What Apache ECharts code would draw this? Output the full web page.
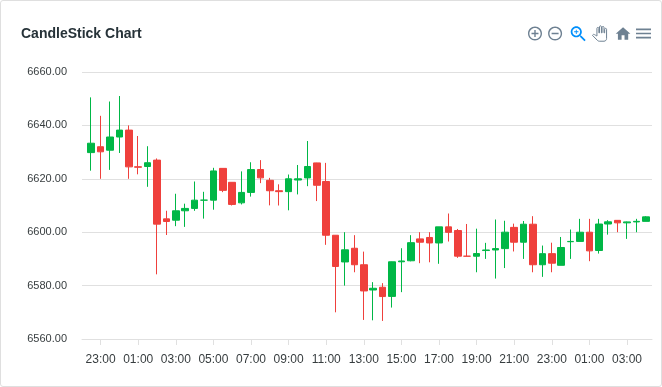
<!DOCTYPE html>
<html><head><meta charset="utf-8">
<style>html,body{margin:0;padding:0;background:#fff}
#wrap{position:absolute;left:0;top:0;width:660px;height:385px;border:1px solid #dfdfdf;border-radius:3px;overflow:hidden}
#c{width:660px;height:385px}</style>
<script src="https://cdn.jsdelivr.net/npm/echarts@6/dist/echarts.min.js"></script>
</head><body><div id="wrap"><div id="c"></div></div>
<script>
const times = ["22:30","23:00","23:30","00:00","00:30","01:00","01:30","02:00","02:30","03:00","03:30","04:00","04:30","05:00","05:30","06:00","06:30","07:00","07:30","08:00","08:30","09:00","09:30","10:00","10:30","11:00","11:30","12:00","12:30","13:00","13:30","14:00","14:30","15:00","15:30","16:00","16:30","17:00","17:30","18:00","18:30","19:00","19:30","20:00","20:30","21:00","21:30","22:00","22:30","23:00","23:30","00:00","00:30","01:00","01:30","02:00","02:30","03:00","03:30","04:00"];
const opens  = [6629.81,6632.01,6630.71,6635.65,6638.24,6624.53,6624.61,6627,6605,6604.5,6608.02,6608.91,6612,6612,6623.91,6618.69,6611,6614.9,6623.48,6619.43,6615.53,6615.19,6619.54,6620.33,6625.95,6619,6598.86,6588.86,6593.99,6587.81,6578.35,6579.38,6575.96,6588.92,6589.3,6597.5,6598.03,6595.97,6602,6600.63,6591.02,6591,6593.13,6593.34,6593.86,6601.81,6596.25,6602.99,6587.81,6591.97,6587.6,6596.44,6596.55,6600,6593.15,6603.07,6604.44,6603.5,6603.85,6604.06];
const highs  = [6650.5,6643.59,6648.95,6651,6640,6636.03,6632.2,6627.62,6608.03,6614.4,6610.68,6618.99,6615.13,6624.12,6623.91,6618.74,6622.78,6626.2,6627,6620.35,6617.93,6621.6,6625.17,6634.15,6626,6625.97,6598.88,6600,6598.89,6592.73,6581.3,6580.92,6589,6594,6598.89,6600,6600,6602.01,6607,6601.21,6603.08,6601.32,6596.01,6604.76,6604.28,6603.21,6604.2,6606,6595,6596.07,6598.21,6601,6605,6605,6605,6604.5,6604.44,6603.99,6605,6606];
const lows   = [6623.04,6620,6623.34,6629.67,6620,6621.68,6617,6584.22,6598.95,6602.26,6601.99,6608.01,6605.09,6608.43,6615,6610,6610.4,6613.33,6618.38,6610.05,6610,6608.2,6614.15,6617.24,6611.66,6595.27,6570,6580,6585,6567.14,6567,6566.77,6571.77,6577.55,6589.1,6588.39,6588.73,6588.17,6596.51,6590.39,6591,6585,6590,6582.63,6586.57,6592.78,6590,6584.99,6583.27,6585,6587.6,6590,6596.55,6589.14,6592,6599.09,6600,6597.5,6600,6604.06];
const closes = [6633.33,6630.11,6635.65,6638.24,6624.47,6624.31,6626.02,6603.02,6604.01,6608.02,6608.91,6612,6612,6622.95,6615.67,6610.4,6614.9,6623.45,6620.35,6615.53,6615.19,6620,6620,6624.61,6617.58,6598.86,6587.16,6593.4,6587.81,6578,6579,6575.9,6588.92,6589.22,6596.08,6596.25,6595.97,6602,6599.95,6591.02,6591,6592,6593.34,6593.86,6600.01,6596.25,6602.99,6587.81,6591.96,6588.39,6594.27,6596.55,6599.99,6593.01,6603.06,6603.89,6603.5,6603.86,6604.07,6605.75];
const tickIndexes = [1,5,9,13,17,21,25,29,33,37,41,45,49,53,57];
const yTicks = [6560,6580,6600,6620,6640,6660];

const gray = '#6E8192', blue = '#008FFB';
// half: half-size of the icon's virtual square; cx,cy: glyph centre; dx,dy: pixel nudge of the glyph inside its toolbox slot
const tool = (d, half, cx, cy, dx, dy, color, extra) => {
  const s = 18/(2*half), bx = cx-dx/s, by = cy-dy/s;
  return {show:true, title:'',
    icon:'path://M'+(bx-half)+' '+(by-half)+'h0M'+(bx+half)+' '+(by+half)+'h0'+d,
    iconStyle:Object.assign({color:color, borderWidth:0}, extra||{}), onclick(){}};
};

const chart = echarts.init(document.getElementById('c'), null, {renderer:'canvas'});
chart.setOption({
  animation:false,
  title:{text:'CandleStick Chart', left:20, top:26, padding:0,
    textStyle:{fontFamily:'"Liberation Sans",Arial,sans-serif', fontSize:14, fontWeight:'bold', color:'#263238'}},
  toolbox:{right:9, top:23, padding:0, itemSize:18, itemGap:3.6, showTitle:false,
    feature:{
      myZoomIn:tool('M13 7h-2v4H7v2h4v4h2v-4h4v-2h-4V7zm-1-5C6.48 2 2 6.48 2 12s4.48 10 10 10 10-4.48 10-10S17.52 2 12 2zm0 18c-4.41 0-8-3.59-8-8s3.59-8 8-8 8 3.59 8 8-3.59 8-8 8z',12.86,12,12,1,0,gray),
      myZoomOut:tool('M7 11v2h10v-2H7zm5-9C6.48 2 2 6.48 2 12s4.48 10 10 10 10-4.48 10-10S17.52 2 12 2zm0 18c-4.41 0-8-3.59-8-8s3.59-8 8-8 8 3.59 8 8-3.59 8-8 8z',12.86,12,12,-0.5,0,gray),
      myZoom:tool('M15.5 14h-.79l-.28-.27C15.41 12.59 16 11.11 16 9.5 16 5.91 13.09 3 9.5 3S3 5.91 3 9.5 5.91 16 9.5 16c1.61 0 3.09-.59 4.23-1.57l.27.28v.79l5 4.99L20.49 19l-4.99-5zm-6 0C7.01 14 5 11.99 5 9.5S7.01 5 9.5 5 14 7.01 14 9.5 11.99 14 9.5 14zM12 10h-2v2H9v-2H7V9h2V7h1v2h2v1z',10.5,11.75,11.5,1,0,blue),
      myPan:tool('M23 5.5V20c0 2.2-1.8 4-4 4h-7.3c-1.08 0-2.1-.43-2.85-1.19L1 14.83s1.26-1.23 1.3-1.25c.22-.19.49-.29.79-.29.22 0 .42.06.6.16.04.01 4.31 2.46 4.31 2.46V4c0-.83.67-1.5 1.5-1.5S11 3.17 11 4v7h1V1.5c0-.83.67-1.5 1.5-1.5S15 .67 15 1.5V11h1V2.5c0-.83.67-1.5 1.5-1.5s1.5.67 1.5 1.5V11h1V5.5c0-.83.67-1.5 1.5-1.5s1.5.67 1.5 1.5z',14,12,12,0.2,0,'#fff',{borderColor:gray,borderWidth:1}),
      myHome:tool('M10 20v-6h4v6h5v-8h3L12 3 2 12h3v8z',11.25,12,11.5,2.6,0,gray),
      myMenu:tool('M3 18h18v-2H3v2zm0-5h18v-2H3v2zm0-7v2h18V6H3z',10.8,12,12,0.5,0,gray)
    }},
  grid:{left:81, right:9, top:71, bottom:47},
  xAxis:{type:'value', min:-0.98, max:59.66,
    splitLine:{show:false},
    axisLine:{show:true, onZero:false, lineStyle:{color:'#e0e0e0'}},
    axisTick:{show:true, length:6, customValues:tickIndexes, lineStyle:{color:'#e0e0e0'}},
    axisLabel:{customValues:tickIndexes, margin:15, color:'#373d3f', fontSize:12,
      fontFamily:'"Liberation Sans",Arial,sans-serif', formatter:v=>times[v]}},
  yAxis:{type:'value', min:yTicks[0], max:yTicks[yTicks.length-1], interval:20,
    axisLine:{show:false}, axisTick:{show:false},
    splitLine:{lineStyle:{color:'#e0e0e0'}},
    axisLabel:{margin:15, color:'#373d3f', fontSize:11,
      fontFamily:'"Liberation Sans",Arial,sans-serif', formatter:v=>v.toFixed(2)}},
  series:[{type:'candlestick', barWidth:7,
    encode:{x:0,y:[1,2,3,4]},
    data:opens.map((o,i)=>[i,o,closes[i],lows[i],highs[i]]),
    itemStyle:{color:'#00B746',color0:'#EF403C',borderColor:'#00B746',borderColor0:'#EF403C',borderWidth:1}}]
});
</script></body></html>
